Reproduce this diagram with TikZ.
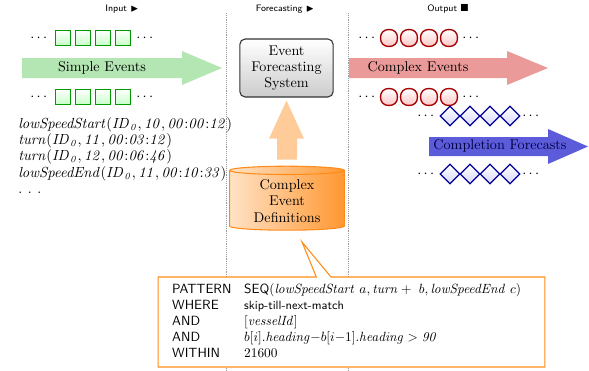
\documentclass[tikz,border=0pt]{standalone}
\usepackage{amsmath}
\usepackage{amssymb}
\usepackage{xcolor}
\usepackage{tikz}
\usetikzlibrary{calc,positioning,shapes.geometric,shapes.callouts}
\definecolor{ink}{HTML}{1A1A1A}
\definecolor{simple}{HTML}{B3E6B3}
\definecolor{cplx}{HTML}{EB9A9A}
\definecolor{fcast}{HTML}{5C5CDB}
\definecolor{defs}{HTML}{FF8C1A}
\definecolor{peach}{HTML}{FFCC99}

\tikzset{
 hdr/.style={font=\sffamily\scriptsize,inner sep=1pt},
 colsep/.style={densely dotted,gray!80},
 gsq/.style={draw=green!60!black,line width=1.2pt,top color=white,bottom color=green!22,minimum size=11.4pt,inner sep=0},
 rcirc/.style={draw=red!65!black,line width=1pt,top color=white,bottom color=red!22,rounded corners=5.6pt,minimum size=12.6pt,inner sep=0},
 bdia/.style={diamond,draw=blue!60!black,line width=1pt,top color=white,bottom color=blue!15,minimum size=15pt,inner sep=0},
 rowdots/.style={inner sep=0},
}

\begin{document}
\begin{tikzpicture}[x=0.75pt,y=-0.75pt,font=\fontsize{10.6}{12.2}\selectfont]
\useasboundingbox (0,0) rectangle (589,371);
% column headers and separators
\node[hdr] (hin) at (122,9) {Input $\blacktriangleright$};
\node[hdr] (hfc) at (285,9) {Forecasting $\blacktriangleright$};
\node[hdr] (hout) at (448,9) {Output $\blacksquare$};
\draw[colsep] (226,13) -- (226,371);
\draw[colsep] (348,13) -- (348,371);

% input: simple events
\fill[simple] (22,58) -- (182,58) -- (182,51) -- (222,68) -- (182,85) -- (182,78) -- (22,78) -- cycle;
\node (simple) at (102,68) {Simple Events};
\foreach \y [count=\r] in {38,97} {
 \node[rowdots] (gl\r) at (40,\y) {$\cdots$};
 \foreach \x [count=\i] in {63,83,103,123}
  \node[gsq] (g\r\i) at (\x,\y) {};
 \node[rowdots] (gr\r) at (146,\y) {$\cdots$};
}
\node[anchor=north west,align=left,inner sep=0] (trace) at (18,117) {%
 $\mathit{lowSpeedStart}(\mathit{ID}_{\mathit{0}}, \mathit{10}, \mathit{00{:}00{:}12})$\\
 $\mathit{turn}(\mathit{ID}_{\mathit{0}}, \mathit{11}, \mathit{00{:}03{:}12})$\\
 $\mathit{turn}(\mathit{ID}_{\mathit{0}}, \mathit{12}, \mathit{00{:}06{:}46})$\\
 $\mathit{lowSpeedEnd}(\mathit{ID}_{\mathit{0}}, \mathit{11}, \mathit{00{:}10{:}33})$\\
 .\hspace{4.2pt}.\hspace{4.2pt}.};

% forecasting: system and definitions
\node[draw=gray!40!black,line width=0.8pt,rounded corners=4pt,top color=white,bottom color=gray!40,minimum width=70pt,minimum height=43.5pt,align=center,inner sep=1pt] (efs) at (286.5,68) {Event\\Forecasting\\System};
\node[cylinder,shape border rotate=90,aspect=0.12,draw=defs,line width=0.8pt,left color=defs!25,right color=defs!90,minimum width=86pt,minimum height=48pt,align=center,inner sep=1pt] (ced) at (287,201) {Complex\\Event\\Definitions};
\fill[peach] ($(ced.north)+(-10,-6)$) -- ($(ced.north)+(-10,-27)$) -- ($(ced.north)+(-18,-27)$)
 -- ($(efs.south)+(0,3)$) -- ($(ced.north)+(17,-27)$) -- ($(ced.north)+(10,-27)$) -- ($(ced.north)+(10,-6)$) -- cycle;

% output: complex events and forecasts
\fill[cplx] (349,58) -- (507,58) -- (507,51) -- (548,68) -- (507,85) -- (507,78) -- (349,78) -- cycle;
\node (cplxev) at (418,68) {Complex Events};
\foreach \y [count=\r] in {38,97} {
 \node[rowdots] (rl\r) at (368,\y) {$\cdots$};
 \foreach \x [count=\i] in {389,409,429,449}
  \node[rcirc] (r\r\i) at (\x,\y) {};
 \node[rowdots] (rr\r) at (472,\y) {$\cdots$};
}
\fill[fcast] (429,137) -- (548,137) -- (548,129) -- (588,146.5) -- (548,164) -- (548,156) -- (429,156) -- cycle;
\node[text=blue!25!black] (compl) at (500,146) {Completion Forecasts};
\foreach \y [count=\r] in {116,174} {
 \node[rowdots] (bl\r) at (427,\y) {$\cdots$};
 \foreach \x [count=\i] in {450,470,490,510}
  \node[bdia] (b\r\i) at (\x,\y) {};
 \node[rowdots] (br\r) at (532,\y) {$\cdots$};
}

% the pattern behind the definitions
\coordinate (ptip) at (302,242);
\node[rectangle callout,callout absolute pointer={(ptip)},callout pointer width=11pt,draw=defs,line width=0.8pt,fill=white,text width=269pt,inner xsep=10.5pt,minimum height=67.5pt,align=left,font=\fontsize{10}{12}\selectfont] (cepl) at (351.5,322) {%
 \begin{tabular}{@{}p{54pt}@{}l@{}}
 \textsf{PATTERN} & \textsf{SEQ}$(\mathit{lowSpeedStart}\ a, \mathit{turn}+\ b, \mathit{lowSpeedEnd}\ c)$\\
 \textsf{WHERE} & \textsf{\small skip-till-next-match}\\
 \textsf{AND} & $[\mathit{vesselId}]$\\
 \textsf{AND} & $b[i].\mathit{heading}{-}b[i{-}1].\mathit{heading} > \mathit{90}$\\
 \textsf{WITHIN} & 21600
 \end{tabular}};
\end{tikzpicture}
\end{document}
